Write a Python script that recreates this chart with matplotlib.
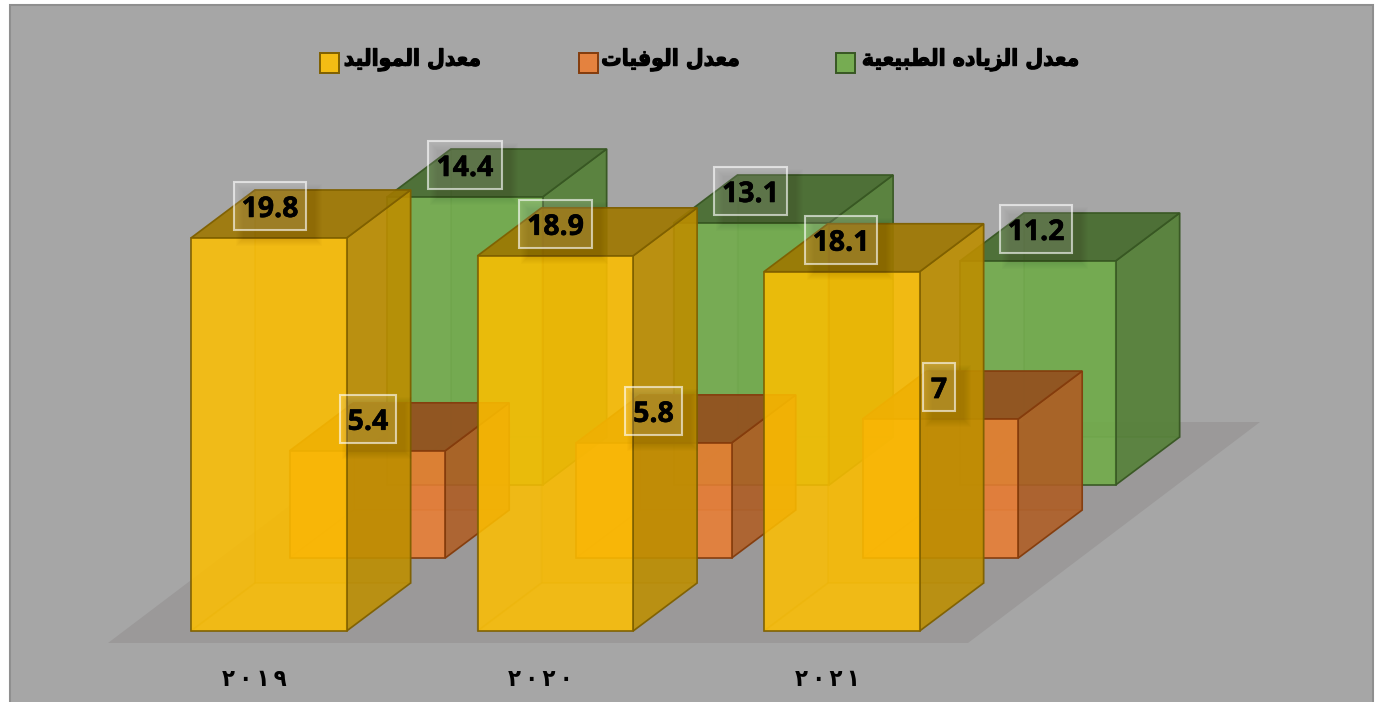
import matplotlib
matplotlib.use("Agg")
import matplotlib.pyplot as plt
import matplotlib.patheffects as pe
from matplotlib.patches import Polygon, Rectangle
from matplotlib.colors import to_rgb

# ---------- data ----------
years = ["٢٠١٩", "٢٠٢٠", "٢٠٢١"]
births = [19.8, 18.9, 18.1]
deaths = [5.4, 5.8, 7]
natural = [14.4, 13.1, 11.2]
birth_name = "معدل المواليد"
death_name = "معدل الوفيات"
natural_name = "معدل الزياده الطبيعية"

# ---------- minimal Arabic shaping (matplotlib does not shape or reorder) ----------
FORMS = {  # isolated, final, initial, medial
    "ا": (0xFE8D, 0xFE8E, None, None), "ب": (0xFE8F, 0xFE90, 0xFE91, 0xFE92),
    "ة": (0xFE93, 0xFE94, None, None), "ت": (0xFE95, 0xFE96, 0xFE97, 0xFE98),
    "د": (0xFEA9, 0xFEAA, None, None), "ز": (0xFEAF, 0xFEB0, None, None),
    "ط": (0xFEC1, 0xFEC2, 0xFEC3, 0xFEC4), "ع": (0xFEC9, 0xFECA, 0xFECB, 0xFECC),
    "ف": (0xFED1, 0xFED2, 0xFED3, 0xFED4), "ل": (0xFEDD, 0xFEDE, 0xFEDF, 0xFEE0),
    "م": (0xFEE1, 0xFEE2, 0xFEE3, 0xFEE4), "ه": (0xFEE9, 0xFEEA, 0xFEEB, 0xFEEC),
    "و": (0xFEED, 0xFEEE, None, None), "ي": (0xFEF1, 0xFEF2, 0xFEF3, 0xFEF4),
}


def shape(text):
    out = []
    for i, ch in enumerate(text):
        if ch not in FORMS:
            out.append(ch)
            continue
        prev = text[i - 1] if i else " "
        nxt = text[i + 1] if i + 1 < len(text) else " "
        joins_prev = prev in FORMS and FORMS[prev][2] is not None
        joins_next = nxt in FORMS and FORMS[ch][2] is not None
        idx = 3 if joins_prev and joins_next else 1 if joins_prev else 2 if joins_next else 0
        out.append(chr(FORMS[ch][idx]))
    return "".join(reversed(out))


# ---------- layout ----------
W, H = 1376, 702
fig = plt.figure(figsize=(W / 100, H / 100), dpi=100, facecolor="white")
ax = fig.add_axes([0, 0, 1, 1])
STEP, BASE, UNIT = 286.5, 631.0, 19.85  # px per category, baseline px, px per value
CENTER0 = 269.0
ax.set_xlim((0 - CENTER0) / STEP, (W - CENTER0) / STEP)
ax.set_ylim((BASE - H) / UNIT, (BASE - 0) / UNIT)
ax.axis("off")
fx = lambda px: (px - CENTER0) / STEP   # pixel layout position -> data x
fy = lambda py: (BASE - py) / UNIT      # pixel layout position -> data y
dw = 155.6 / STEP                       # bar width
ddx, ddy = 64 / STEP, 48 / UNIT         # depth of a bar


def poly(pts, fc, alpha, ec="none", lw=0.0, z=1):
    ax.add_patch(Polygon(pts, closed=True, facecolor=(*to_rgb(fc), alpha),
                         edgecolor=ec, linewidth=lw, joinstyle="miter", zorder=z))


def box3d(x, y0, v, base, side, top, edge, z):
    """x: left of front face, y0: bottom of front face, v: height in values."""
    r, y1 = x + dw, y0 + v
    ec_soft = (*to_rgb(edge), 0.18)
    ec = (*to_rgb(edge), 0.95)
    kw = dict(lw=1.2, z=z)
    poly([(x + ddx, y0 + ddy), (r + ddx, y0 + ddy), (r + ddx, y1 + ddy), (x + ddx, y1 + ddy)],
         side, 0.28, ec=ec_soft, **kw)                                    # back
    poly([(x, y0), (x + ddx, y0 + ddy), (x + ddx, y1 + ddy), (x, y1)], side, 0.10, ec=ec_soft, **kw)  # left
    poly([(x, y0), (r, y0), (r + ddx, y0 + ddy), (x + ddx, y0 + ddy)], base, 0.10, ec=ec_soft, **kw)  # floor
    poly([(r, y0), (r + ddx, y0 + ddy), (r + ddx, y1 + ddy), (r, y1)], side, 0.86, ec=ec, **kw)       # right
    poly([(x, y1), (r, y1), (r + ddx, y1 + ddy), (x + ddx, y1 + ddy)], top, 0.88, ec=ec, **kw)        # top
    poly([(x, y0), (r, y0), (r, y1), (x, y1)], base, 0.84, ec=ec, **kw)                               # front


def dark(c, k):
    return tuple(v * k for v in to_rgb(c))


# panel + floor
ax.add_patch(Rectangle((fx(9.5), fy(720)), 1363 / STEP, 715.5 / UNIT, facecolor="#A6A6A6",
                       edgecolor="#8F8F8F", linewidth=1.5, zorder=0))
poly([(fx(108), fy(643)), (fx(968), fy(643)), (fx(1260), fy(422)), (fx(400), fy(422))],
     "#9B9999", 1.0, z=0.5)

series = [  # back to front: values, left px of first bar, base px, value scale, colour, edge, label offset px
    (natural, 387.0, 485, 20.0 / UNIT, "#70AD47", "#385723", 78),
    (deaths, 289.6, 558, 1.0, "#ED7D31", "#843C0C", 78.4),
    (births, 191, 631, 1.0, "#FFC000", "#7F6000", 79),
]
labels = []
z = 2
for values, left, base_px, k, col, edge, lab_off in series:
    for i, v in enumerate(values):
        x = i + fx(left)
        y0 = fy(base_px)
        box3d(x, y0, v * k, col, dark(col, 0.74), dark(col, 0.62), edge, z)
        labels.append((x + (lab_off - i) / STEP, y0 + v * k + 32 / UNIT, v))
        z += 1

# value labels
renderer = fig.canvas.get_renderer()
for lx, ly, v in labels:
    t = ax.text(lx, ly, str(v), ha="center", va="center_baseline", fontsize=20.5,
                family="Open Sans", fontweight="bold", color="black", zorder=102,
                path_effects=[pe.withStroke(linewidth=0.4, foreground="black")])
    w = t.get_window_extent(renderer).width
    bw = (w + 16) / STEP
    bh = 48 / UNIT
    for g in range(8):  # soft shadow
        grow = (14 - 2 * g)
        ax.add_patch(Rectangle((lx - bw / 2 + (9 - grow / 2) / STEP, ly - bh / 2 - (9 + grow / 2) / UNIT),
                               bw + grow / STEP, bh + grow / UNIT, facecolor=(0, 0, 0, 0.013),
                               edgecolor="none", zorder=100))
    ax.add_patch(Rectangle((lx - bw / 2, ly - bh / 2), bw, bh, facecolor=(1, 1, 1, 0.13),
                           edgecolor=(1, 1, 1, 0.62), linewidth=1.5, zorder=101))

# category labels
for i, y in enumerate(years):
    ax.text(i + fx(254), fy(679), "\u2009".join(y), ha="center", va="center", fontsize=17,
            family="DejaVu Sans", stretch="condensed", fontweight="bold", color="black", zorder=103)

# legend
legend = [
    (birth_name, 320, 481, "#FFC000", "#7F6000"),
    (death_name, 579, 740, "#ED7D31", "#843C0C"),
    (natural_name, 836, 1080, "#70AD47", "#385723"),
]
for name, sq, right, col, edge in legend:
    ax.add_patch(Rectangle((fx(sq), fy(73)), 19 / STEP, 20 / UNIT, facecolor=(*to_rgb(col), 0.88),
                           edgecolor=edge, linewidth=1.4, zorder=103))
    ax.text(fx(right), fy(60), shape(name), ha="right", va="center", fontsize=16.4,
            family="DejaVu Sans", stretch="condensed", fontweight="bold", color="black", zorder=103,
            path_effects=[pe.withStroke(linewidth=0.8, foreground="black")])

fig.savefig("out.png", dpi=100, facecolor="white")
